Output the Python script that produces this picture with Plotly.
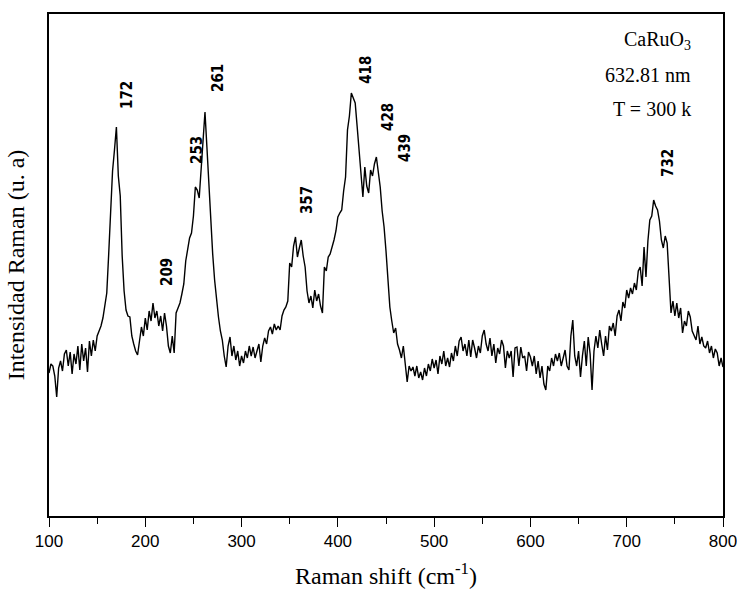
import numpy as np
import plotly.graph_objects as go

# Raman shift sampling (cm^-1), start and step of the recorded grid
SHIFT_START = 100
SHIFT_STEP = 2

# Intensity (arbitrary units), 10 values per 20 cm^-1
intensity = [
    143, 152, 150, 140, 119, 148, 155, 145, 162, 166,   # 100-118
    150, 164, 142, 162, 152, 170, 146, 172, 155, 168,   # 120-138
    144, 175, 160, 176, 165, 180, 185, 190, 198, 212,   # 140-158
    223, 262, 300, 345, 366, 389, 340, 320, 260, 225,   # 160-178
    206, 200, 199, 180, 172, 165, 161, 178, 189, 180,   # 180-198
    198, 186, 205, 195, 213, 198, 205, 190, 200, 185,   # 200-218
    203, 190, 170, 163, 180, 163, 203, 208, 213, 222,   # 220-238
    232, 255, 268, 278, 283, 300, 329, 326, 318, 345,   # 240-258
    370, 404, 369, 330, 290, 262, 236, 215, 199, 185,   # 260-278
    176, 160, 149, 170, 179, 160, 170, 156, 165, 150,   # 280-298
    160, 153, 165, 158, 170, 160, 169, 158, 165, 172,   # 300-318
    154, 170, 178, 172, 185, 189, 182, 192, 186, 190,   # 320-338
    186, 200, 206, 209, 215, 253, 249, 270, 279, 259,   # 340-358
    268, 276, 260, 249, 225, 213, 220, 208, 226, 215,   # 360-378
    222, 210, 203, 249, 245, 259, 262, 268, 276, 285,   # 380-398
    299, 303, 306, 325, 339, 386, 400, 423, 418, 413,   # 400-418
    390, 365, 339, 319, 349, 330, 323, 346, 340, 352,   # 420-438
    359, 345, 329, 305, 289, 265, 240, 209, 195, 183,   # 440-458
    188, 172, 166, 158, 170, 153, 134, 150, 145, 149,   # 460-478
    140, 150, 138, 144, 136, 148, 140, 152, 145, 157,   # 480-498
    148, 156, 142, 160, 152, 165, 150, 158, 149, 163,   # 500-518
    155, 170, 160, 175, 179, 165, 172, 160, 176, 159,   # 520-538
    176, 168, 158, 170, 163, 180, 186, 172, 165, 178,   # 540-558
    160, 172, 153, 168, 162, 176, 170, 148, 165, 158,   # 560-578
    165, 139, 168, 169, 150, 169, 158, 160, 145, 164,   # 580-598
    159, 150, 160, 142, 155, 138, 150, 132, 126, 150,   # 600-618
    145, 158, 150, 162, 155, 163, 150, 158, 166, 150,   # 620-638
    146, 180, 196, 160, 150, 165, 139, 160, 175, 150,   # 640-658
    179, 162, 126, 165, 180, 168, 186, 172, 160, 180,   # 660-678
    166, 190, 185, 193, 180, 200, 206, 195, 214, 208,   # 680-698
    226, 218, 228, 222, 233, 226, 245, 249, 230, 269,   # 700-718
    239, 275, 296, 300, 316, 310, 306, 295, 276, 268,   # 720-738
    280, 273, 240, 203, 215, 200, 213, 198, 208, 183,   # 740-758
    195, 190, 205, 199, 185, 180, 176, 190, 172, 179,   # 760-778
    170, 168, 175, 163, 170, 158, 167, 163, 150, 158,   # 780-798
    149,                                                # 800
]
shift = [SHIFT_START + SHIFT_STEP * i for i in range(len(intensity))]

# Peak labels and where they sit (data coords)
peak_labels = ["172", "209", "253", "261", "357", "418", "428", "439", "732"]
peak_label_x = [181, 222.5, 253.7, 275.5, 368, 429, 452, 469.7, 742.8]
peak_label_y = [421, 244, 366, 438, 316, 446, 399, 368, 353]

info_lines = ["CaRuO<sub>3</sub>", "632.81 nm", "T = 300 k"]
info_y = [476, 441, 407]

x_ticks = [100, 200, 300, 400, 500, 600, 700, 800]

fig = go.Figure()
fig.add_trace(go.Scatter(x=shift, y=intensity, mode="lines",
                         line=dict(color="black", width=1.4),
                         showlegend=False, hoverinfo="skip"))

for t, xx, yy in zip(peak_labels, peak_label_x, peak_label_y):
    fig.add_annotation(x=xx, y=yy, xref="x", yref="y", text=t, textangle=-90,
                       showarrow=False, xanchor="center", yanchor="middle",
                       font=dict(family="Liberation Sans Narrow, DejaVu Sans Condensed, Arial Narrow, sans-serif",
                                 size=15, color="black", weight="bold"))

for t, yy in zip(info_lines, info_y):
    fig.add_annotation(x=769, y=yy, xref="x", yref="y", text=t, showarrow=False,
                       xanchor="right", yanchor="middle",
                       font=dict(family="Liberation Serif, Times New Roman, serif",
                                 size=20, color="black"))

fig.update_layout(
    width=737, height=594,
    margin=dict(l=49, r=14, t=14, b=78, autoexpand=False),
    paper_bgcolor="white", plot_bgcolor="white",
    showlegend=False,
)
fig.update_xaxes(
    range=[100, 800], tickvals=x_ticks, ticktext=[str(v) for v in x_ticks],
    ticklabeloverflow="allow", automargin=False,
    showline=True, linecolor="black", linewidth=1.5, mirror=True,
    ticks="outside", ticklen=9, tickwidth=1.3, tickcolor="black",
    minor=dict(dtick=50, tick0=100, ticks="outside", ticklen=6, tickwidth=1.3, tickcolor="black"),
    showgrid=False, zeroline=False,
    tickfont=dict(family="Liberation Sans, Arial, sans-serif", size=17, color="black"),
    title=dict(text="Raman shift (cm<sup>-1</sup>)", standoff=17,
               font=dict(family="Liberation Serif, Times New Roman, serif", size=24, color="black")),
)
fig.update_yaxes(
    range=[0, 502], showticklabels=False, ticks="", automargin=False,
    showline=True, linecolor="black", linewidth=1.5, mirror=True,
    showgrid=False, zeroline=False,
    title=dict(text="Intensidad Raman (u. a)", standoff=16,
               font=dict(family="Liberation Serif, Times New Roman, serif", size=24, color="black")),
)

fig.write_html("out.html")
